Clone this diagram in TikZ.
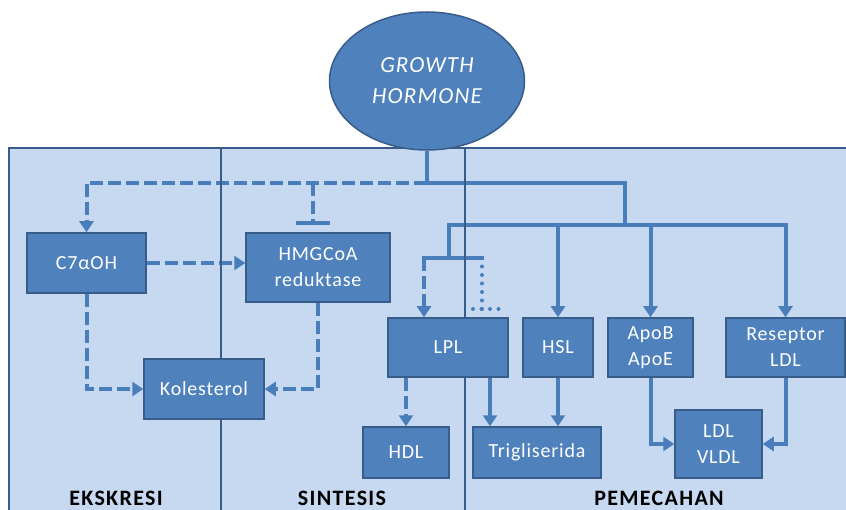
\documentclass[tikz,border=0pt]{standalone}
\usepackage{fontspec}
\setmainfont{Carlito}
\newfontfamily\boxfont[LetterSpace=4]{Carlito}
\newfontfamily\zonefont[LetterSpace=6]{Carlito}
\newfontfamily\hubfont[LetterSpace=5]{Carlito}
\usetikzlibrary{arrows.meta,shapes.geometric}
\definecolor{boxblue}{HTML}{4F81BD}
\definecolor{boxedge}{HTML}{385D8A}
\definecolor{panel}{HTML}{C6D9F1}
\definecolor{wire}{HTML}{4A7EBB}
\pgfdeclarelayer{back}\pgfdeclarelayer{mid}
\pgfsetlayers{back,mid,main}
\tikzset{proc/.style={draw=boxedge,fill=boxblue,line width=1.5pt,text=white,inner sep=0pt,
  font=\boxfont\fontsize{20}{26}\selectfont,align=center},
 hub/.style={proc,ellipse,font=\hubfont\itshape\fontsize{23}{31}\selectfont},
 plain/.style={draw=wire,line width=4pt},
 act/.style={plain,-{Triangle[width=14pt,length=11pt]}},
 dsh/.style={dash pattern=on 13pt off 5pt},
 dots/.style={dash pattern=on 0pt off 8.5pt,line cap=round},
 zone/.style={font=\zonefont\bfseries\fontsize{22}{24}\selectfont,anchor=base}}

\begin{document}
\begin{tikzpicture}[x=1pt,y=-1pt]
\useasboundingbox (0,0) rectangle (846,510);
\node[hub,minimum width=195pt,minimum height=138pt](gh) at(427,81){GROWTH\\HORMONE};
\node[proc,minimum width=119pt,minimum height=60pt](c7) at(86.5,263){C7αOH};
\node[proc,minimum width=144pt,minimum height=69pt](hmg) at(318,267.5){HMGCoA\\reduktase};
\node[proc,minimum width=120pt,minimum height=60pt](kol) at(204,389){Kolesterol};
\node[proc,minimum width=120pt,minimum height=59pt](lpl) at(448,347.5){LPL};
\node[proc,minimum width=70pt,minimum height=59pt](hsl) at(558,347.5){HSL};
\node[proc,minimum width=85pt,minimum height=59pt](apo) at(650.5,347.5){ApoB\\ApoE};
\node[proc,minimum width=119pt,minimum height=59pt](rsp) at(785.5,347.5){Reseptor\\LDL};
\node[proc,minimum width=86pt,minimum height=51pt](hdl) at(406,452.5){HDL};
\node[proc,minimum width=128pt,minimum height=51pt](tg) at(537,452.5){Trigliserida};
\node[proc,minimum width=87pt,minimum height=68pt](ldl) at(718.5,444){LDL\\VLDL};
\node[zone](ek) at(116,505){EKSKRESI};
\node[zone](si) at(342,505){SINTESIS};
\node[zone](pe) at(659,505){PEMECAHAN};
\coordinate (j0) at(427,183);
\coordinate (j1) at(625,225);
\coordinate (k0) at(449,258);
\coordinate (kl) at(424,258);
\coordinate (kr) at(482,258);
\coordinate (kd) at(482,309);
\coordinate (t0) at(313,183);
\coordinate (t1) at(313,225);
\begin{pgfonlayer}{back}
\fill[panel] (9,148) rectangle (860,520);
\draw[boxedge,line width=1.5pt] (860,148) -- (9,148) -- (9,520);
\draw[plain] (gh.south) -- (j0);
\draw[act,dsh] (j0) -| (c7.north);
\draw[plain,dsh,-{Bar[width=34pt]}] (t0) -- (t1);
\draw[plain] (j0) -| (j1);
\draw[act] (k0) |- (j1-|rsp) -- (rsp.north);
\draw[act] (hsl.north|-j1) -- (hsl.north);
\draw[act] (apo.north|-j1) -- (apo.north);
\draw[plain,line cap=rect] (kl) -- (kr);
\draw[act,dsh] (kl) -- (kl|-lpl.north);
\draw[plain,dots] (kr) -- (kd);
\draw[plain,dots] ([xshift=-9pt]kd) -- ([xshift=18pt]kd);
\draw[act,dsh] (c7.east) -- (c7.east-|hmg.west);
\draw[act,dsh] (c7.south) |- (kol.west);
\draw[act,dsh] (hmg.south) |- (kol.east);
\draw[act,dsh] (lpl.south-|hdl) -- (hdl.north);
\draw[act] ([xshift=42pt]lpl.south) coordinate(lp) -- (lp|-tg.north);
\draw[act] (hsl.south) -- (hsl.south|-tg.north);
\draw[act] (apo.south) |- (ldl.west);
\draw[act] (rsp.south) |- (ldl.east);
\end{pgfonlayer}
\begin{pgfonlayer}{mid}
\draw[boxedge,line width=1.2pt] (221,148) -- (221,520) (465,148) -- (465,520);
\end{pgfonlayer}
\end{tikzpicture}
\end{document}
